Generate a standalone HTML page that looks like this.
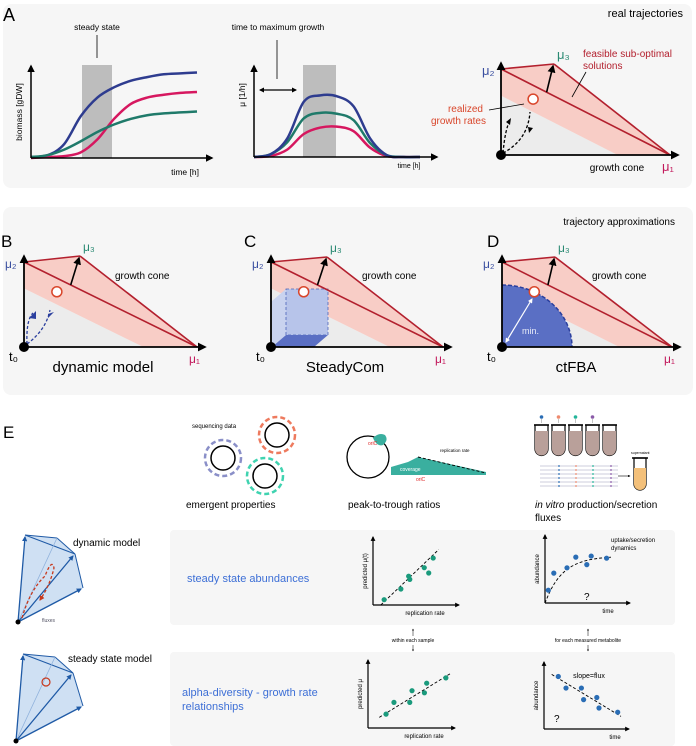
<!DOCTYPE html>
<html><head><meta charset="utf-8"><style>
html,body{margin:0;padding:0;background:#fff;}
svg{display:block;font-family:"Liberation Sans",sans-serif;}
</style></head><body>
<svg id="fig" width="696" height="746" viewBox="0 0 696 746" xmlns="http://www.w3.org/2000/svg">
<defs>
<marker id="ah" viewBox="0 0 10 10" refX="8" refY="5" markerWidth="5" markerHeight="5" orient="auto-start-reverse"><path d="M0,0L10,5L0,10z" fill="#000"/></marker>
<marker id="ahs" viewBox="0 0 10 10" refX="8" refY="5" markerWidth="4" markerHeight="4" orient="auto-start-reverse"><path d="M0,0L10,5L0,10z" fill="#000"/></marker>
<marker id="ahb" viewBox="0 0 10 10" refX="8" refY="5" markerWidth="4" markerHeight="4" orient="auto"><path d="M0,0L10,5L0,10z" fill="#1f5aa6"/></marker>
<marker id="ahr" viewBox="0 0 10 10" refX="8" refY="5" markerWidth="4" markerHeight="4" orient="auto"><path d="M0,0L10,5L0,10z" fill="#c8381c"/></marker>
<marker id="ahw" viewBox="0 0 10 10" refX="8" refY="5" markerWidth="4" markerHeight="4" orient="auto-start-reverse"><path d="M0,0L10,5L0,10z" fill="#fff"/></marker>
</defs>

<rect x="3" y="4" width="689" height="184" rx="8" fill="#f6f6f6"/>
<rect x="3" y="207" width="690" height="188" rx="8" fill="#f6f6f6"/>
<rect x="170" y="530" width="505" height="95" rx="4" fill="#f6f6f6"/>
<rect x="170" y="652" width="505" height="94" rx="4" fill="#f6f6f6"/>

<text x="3" y="21" font-size="18">A</text>
<text x="683" y="17" font-size="11" text-anchor="end">real trajectories</text>

<g>
<rect x="82" y="65" width="30" height="93" fill="#bdbdbd"/>
<text x="97" y="30" font-size="8.5" text-anchor="middle">steady state</text>
<line x1="97" y1="35" x2="97" y2="58" stroke="#000" stroke-width="0.8"/>
<g id="a1curves"></g>
<line x1="31" y1="158" x2="31" y2="66" stroke="#000" stroke-width="1.5" marker-end="url(#ah)"/>
<line x1="31" y1="158" x2="212" y2="158" stroke="#000" stroke-width="1.5" marker-end="url(#ah)"/>
<text transform="translate(22,112) rotate(-90)" font-size="8.5" text-anchor="middle">biomass [gDW]</text>
<text x="185" y="175" font-size="8.5" text-anchor="middle">time [h]</text>
</g>

<g>
<rect x="303" y="65" width="33" height="92" fill="#bdbdbd"/>
<text x="278" y="30" font-size="8.5" text-anchor="middle">time to maximum growth</text>
<line x1="277" y1="40" x2="277" y2="79" stroke="#000" stroke-width="0.8"/>
<line x1="260" y1="90" x2="296" y2="90" stroke="#000" stroke-width="1.3" marker-start="url(#ahs)" marker-end="url(#ahs)"/>
<g id="a2curves"></g>
<line x1="254" y1="157" x2="254" y2="66" stroke="#000" stroke-width="1.5" marker-end="url(#ah)"/>
<line x1="254" y1="157" x2="437" y2="157" stroke="#000" stroke-width="1.5" marker-end="url(#ah)"/>
<text transform="translate(245,95) rotate(-90)" font-size="8.5" text-anchor="middle">μ [1/h]</text>
<text x="409" y="168" font-size="7" text-anchor="middle">time [h]</text>
</g>

<g id="cones"></g>

<text x="583" y="57" font-size="10" fill="#b3202e">feasible sub-optimal</text>
<text x="583" y="69" font-size="10" fill="#b3202e">solutions</text>
<line x1="586" y1="72" x2="572" y2="97" stroke="#000" stroke-width="0.8"/>
<text x="483" y="112" font-size="10" fill="#d9462b" text-anchor="end">realized</text>
<text x="486" y="124" font-size="10" fill="#d9462b" text-anchor="end">growth rates</text>
<line x1="489" y1="110" x2="524" y2="104" stroke="#000" stroke-width="0.8"/>
<path d="M503,153 Q505,130 510,120 M503,153 Q528,140 530,112" fill="none" stroke="#000" stroke-width="1.3" stroke-dasharray="3,2"/>
<path d="M506,122 L511,118 L510,125z M528,127 L533,128 L529,133z" fill="#000"/>
<text x="617" y="171" font-size="10" text-anchor="middle">growth cone</text>

<text x="675" y="225" font-size="10" text-anchor="end">trajectory approximations</text>
<text x="1" y="247" font-size="17">B</text>
<text x="244" y="247" font-size="17">C</text>
<text x="487" y="247" font-size="17">D</text>
<text x="103" y="372" font-size="15" text-anchor="middle">dynamic model</text>
<text x="345" y="372" font-size="15" text-anchor="middle">SteadyCom</text>
<text x="576" y="372" font-size="15" text-anchor="middle">ctFBA</text>

<text x="3" y="438" font-size="17">E</text>
<text x="192" y="428" font-size="6">sequencing data</text>
<g>
<circle cx="223" cy="458" r="18" fill="none" stroke="#8a8fc8" stroke-width="2.5" stroke-dasharray="5,3"/>
<circle cx="223" cy="458" r="12" fill="none" stroke="#000" stroke-width="1.5"/>
<circle cx="277" cy="435" r="18" fill="none" stroke="#ee7a5e" stroke-width="2.5" stroke-dasharray="5,3"/>
<circle cx="277" cy="435" r="12" fill="none" stroke="#000" stroke-width="1.5"/>
<circle cx="265" cy="476" r="18" fill="none" stroke="#3fd3b0" stroke-width="2.5" stroke-dasharray="5,3"/>
<circle cx="265" cy="476" r="12" fill="none" stroke="#000" stroke-width="1.5"/>
</g>
<text x="186" y="508" font-size="10">emergent properties</text>
<g>
<circle cx="368" cy="457" r="21" fill="none" stroke="#000" stroke-width="1.3"/>
<path d="M373,438 q6,-6 12,-3 q4,5 -2,10 q-6,2 -10,-7z" fill="#3aaf9f"/>
<text x="368" y="445" font-size="5" fill="#d22">oriC</text>
<path d="M391,475 L391,467 L408,462 L418,457 L486,472 L486,475z" fill="#3aaf9f"/>
<line x1="418" y1="457" x2="486" y2="473" stroke="#000" stroke-width="0.9" stroke-dasharray="3,2"/>
<text x="440" y="452" font-size="4.5">replication rate</text>
<text x="400" y="471" font-size="5" fill="#fff">coverage</text>
<text x="416" y="481" font-size="5" fill="#d22">oriC</text>
</g>
<text x="348" y="508" font-size="10">peak-to-trough ratios</text>
<g id="tubes"></g>
<text x="535" y="508" font-size="10"><tspan font-style="italic">in vitro</tspan> production/secretion</text>
<text x="535" y="521" font-size="10">fluxes</text>

<g>
<polygon points="18,622 25,535 57,538 75,554 83,588" fill="#cfe0f3" stroke="none"/>
<line x1="25" y1="535" x2="75" y2="554" stroke="#1f5aa6" stroke-width="1"/>
<line x1="25" y1="535" x2="57" y2="538" stroke="#1f5aa6" stroke-width="1"/>
<line x1="57" y1="538" x2="75" y2="554" stroke="#1f5aa6" stroke-width="1"/>
<line x1="75" y1="554" x2="83" y2="588" stroke="#1f5aa6" stroke-width="1"/>
<line x1="18" y1="622" x2="57" y2="538" stroke="#8fb1dc" stroke-width="0.8"/>
<line x1="18" y1="622" x2="25" y2="537" stroke="#1f5aa6" stroke-width="1.3" marker-end="url(#ahb)"/>
<line x1="18" y1="622" x2="73" y2="556" stroke="#1f5aa6" stroke-width="1.3" marker-end="url(#ahb)"/>
<line x1="18" y1="622" x2="81" y2="589" stroke="#1f5aa6" stroke-width="1.3" marker-end="url(#ahb)"/>
<path d="M22,618 Q30,590 45,576 Q52,558 54,568 Q50,585 40,600" fill="none" stroke="#c8381c" stroke-width="1.3" stroke-dasharray="3,2" marker-end="url(#ahr)"/>
<circle cx="18" cy="622" r="2.5" fill="#000"/>
</g>
<text x="73" y="546" font-size="10">dynamic model</text>
<text x="42" y="622" font-size="5" fill="#556">fluxes</text>
<g>
<polygon points="16,741 23,654 55,657 73,673 83,706" fill="#cfe0f3"/>
<line x1="23" y1="654" x2="55" y2="657" stroke="#1f5aa6"/>
<line x1="23" y1="654" x2="73" y2="673" stroke="#1f5aa6"/>
<line x1="55" y1="657" x2="73" y2="673" stroke="#1f5aa6"/>
<line x1="73" y1="673" x2="83" y2="706" stroke="#1f5aa6"/>
<line x1="16" y1="741" x2="55" y2="657" stroke="#8fb1dc" stroke-width="0.8"/>
<line x1="16" y1="741" x2="23" y2="656" stroke="#1f5aa6" stroke-width="1.3" marker-end="url(#ahb)"/>
<line x1="16" y1="741" x2="71" y2="675" stroke="#1f5aa6" stroke-width="1.3" marker-end="url(#ahb)"/>
<line x1="16" y1="741" x2="81" y2="707" stroke="#1f5aa6" stroke-width="1.3" marker-end="url(#ahb)"/>
<circle cx="46" cy="682" r="4" fill="none" stroke="#c8381c" stroke-width="1.2"/>
<circle cx="16" cy="741" r="2.5" fill="#000"/>
</g>
<text x="68" y="662" font-size="10">steady state model</text>

<text x="187" y="582" font-size="11" fill="#3d6fd6">steady state abundances</text>
<text x="182" y="696" font-size="11" fill="#3d6fd6">alpha-diversity - growth rate</text>
<text x="182" y="710" font-size="11" fill="#3d6fd6">relationships</text>

<text x="413" y="642" font-size="5" text-anchor="middle">within each sample</text>
<line x1="413" y1="636" x2="413" y2="629" stroke="#000" stroke-width="0.5" marker-end="url(#ahs)"/>
<line x1="413" y1="645" x2="413" y2="651" stroke="#000" stroke-width="0.5" marker-end="url(#ahs)"/>
<text x="588" y="642" font-size="5" text-anchor="middle">for each measured metabolite</text>
<line x1="588" y1="636" x2="588" y2="629" stroke="#000" stroke-width="0.5" marker-end="url(#ahs)"/>
<line x1="588" y1="645" x2="588" y2="651" stroke="#000" stroke-width="0.5" marker-end="url(#ahs)"/>

<g id="scatters"></g>
<text x="611" y="542" font-size="6">uptake/secretion</text>
<text x="611" y="550" font-size="6">dynamics</text>
<text x="584" y="600" font-size="10">?</text>
<text x="589" y="678" font-size="7" text-anchor="middle">slope=flux</text>
<text x="554" y="722" font-size="10">?</text>
</svg>
<script>
var timeSteps=[0,1,2,3,4,5,6,7,8,9,10];
var biomassBlue=[0.01,0.03,0.15,0.45,0.65,0.76,0.83,0.87,0.9,0.91,0.92];
var biomassRed=[0,0.01,0.02,0.06,0.2,0.42,0.58,0.65,0.68,0.7,0.71];
var biomassGreen=[0.01,0.03,0.09,0.18,0.28,0.36,0.42,0.46,0.48,0.49,0.5];
var growthBlue=[0,0.03,0.2,0.6,0.67,0.66,0.55,0.2,0.02,0,0];
var growthGreen=[0,0.03,0.16,0.42,0.48,0.47,0.4,0.15,0.02,0,0];
var growthRed=[0,0.01,0.08,0.25,0.32,0.33,0.28,0.1,0.01,0,0];
var replRate1=[1.0,2.5,3.2,3.3,4.6,5.0,5.4];
var predMu1=[0.5,1.5,2.7,2.4,3.5,3.0,4.4];
var time1=[0.3,0.8,2.0,2.8,3.8,4.2,5.6];
var abund1=[1.2,2.8,3.3,4.3,3.6,4.4,4.2];
var replRate2=[1.6,2.3,3.7,3.9,5.0,5.2,6.9];
var predMu2=[1.3,2.4,2.4,3.5,3.3,4.2,4.7];
var time2=[1.3,2.0,3.4,3.6,4.8,5.0,6.7];
var abund2=[5.0,3.9,3.9,2.8,3.0,2.0,1.6];

var NS="http://www.w3.org/2000/svg";
function mk(tag,attrs,parent){var e=document.createElementNS(NS,tag);for(var k in attrs)e.setAttribute(k,attrs[k]);parent.appendChild(e);return e;}
function smooth(pts){var d="M"+pts[0][0]+","+pts[0][1];for(var i=0;i<pts.length-1;i++){var p0=pts[i-1]||pts[i],p1=pts[i],p2=pts[i+1],p3=pts[i+2]||p2;var c1x=p1[0]+(p2[0]-p0[0])/6,c1y=p1[1]+(p2[1]-p0[1])/6,c2x=p2[0]-(p3[0]-p1[0])/6,c2y=p2[1]-(p3[1]-p1[1])/6;d+=" C"+c1x+","+c1y+" "+c2x+","+c2y+" "+p2[0]+","+p2[1];}return d;}
function scale(d0,d1,r0,r1){return function(v){return r0+(v-d0)/(d1-d0)*(r1-r0);};}

var a1x=scale(0,10,31,197),a1y=scale(0,1,158,65);
var g1=document.getElementById('a1curves');
[[biomassBlue,'#2e3c8f','biomass-curve-blue'],[biomassRed,'#d6175f','biomass-curve-red'],[biomassGreen,'#1f7a6a','biomass-curve-green']].forEach(function(s){
 var p=mk('path',{d:smooth(timeSteps.map(function(t,i){return [a1x(t),a1y(s[0][i])];})),fill:'none',stroke:s[1],'stroke-width':2.5},g1);
 
 
});
var a2x=scale(0,10,254,420),a2y=scale(0,1,157,65);
var g2=document.getElementById('a2curves');
[[growthRed,'#d6175f','growth-curve-red'],[growthGreen,'#1f7a6a','growth-curve-green'],[growthBlue,'#2e3c8f','growth-curve-blue']].forEach(function(s){
 var p=mk('path',{d:smooth(timeSteps.map(function(t,i){return [a2x(t),a2y(s[0][i])];})),fill:'none',stroke:s[1],'stroke-width':2.5},g2);
 
 
});

var cg=document.getElementById('cones');
function cone(ox,oy,h,w,m3x,m3y,name,fs,extra){
 var g=mk('g',{},cg);
 
 
 var f=0.69;
 mk('polygon',{points:ox+","+oy+" "+ox+","+(oy-f*h)+" "+(ox+f*w)+","+oy,fill:'#ececec'},g);
 mk('polygon',{points:ox+","+(oy-h)+" "+m3x+","+m3y+" "+(ox+w)+","+oy+" "+(ox+f*w)+","+oy+" "+ox+","+(oy-f*h),fill:'#f8cdc6'},g);
 if(extra)extra(g);
 mk('line',{x1:ox,y1:oy-h,x2:m3x,y2:m3y,stroke:'#b3202e','stroke-width':1.6},g);
 mk('line',{x1:m3x,y1:m3y,x2:ox+w,y2:oy,stroke:'#b3202e','stroke-width':1.6},g);
 mk('line',{x1:ox,y1:oy-h,x2:ox+w,y2:oy,stroke:'#b3202e','stroke-width':1.6},g);
 var mx=ox+0.27*w,my=oy-h+0.27*h;
 mk('line',{x1:mx,y1:my,x2:m3x-1,y2:m3y+2,stroke:'#000','stroke-width':1.6,'marker-end':'url(#ah)'},g);
 mk('line',{x1:ox,y1:oy,x2:ox,y2:oy-h-6,stroke:'#000','stroke-width':1.8,'marker-end':'url(#ah)'},g);
 mk('line',{x1:ox,y1:oy,x2:ox+w+8,y2:oy,stroke:'#000','stroke-width':1.8,'marker-end':'url(#ah)'},g);
 mk('circle',{cx:ox+0.19*w,cy:oy-0.65*h,r:5,fill:'#fff',stroke:'#d9462b','stroke-width':1.5},g);
 mk('circle',{cx:ox,cy:oy,r:5,fill:'#000'},g);
 var t=mk('text',{x:ox-19,y:oy-h+6,'font-size':fs,fill:'#3a4fa0'},g);t.textContent='μ₂';
 t=mk('text',{x:m3x+3,y:m3y-5,'font-size':fs,fill:'#2a8a73'},g);t.textContent='μ₃';
 t=mk('text',{x:ox+w-8,y:oy+16,'font-size':fs,fill:'#c2185b'},g);t.textContent='μ₁';
 return g;
}
cone(501,155,86,169,554,64,'growth-cone-a',13);
function tLabel(x,y){var t=mk('text',{x:x,y:y,'font-size':13},cg);t.textContent='t₀';}
cone(24,347,85,173,80,256,'growth-cone-b',12,function(g){
 mk('path',{d:'M27,344 Q26,320 33,313 M27,344 Q46,330 50,310',fill:'none',stroke:'#2b3f9e','stroke-width':1.3,'stroke-dasharray':'3,2'},g);
 mk('path',{d:'M29,318 L36,311 L36,319z M48,314 L54,312 L48,318z',fill:'#2b3f9e'},g);
});
tLabel(9,361);
var t=mk('text',{x:115,y:279,'font-size':10},cg);t.textContent='growth cone';
cone(271,347,85,172,327,257,'growth-cone-c',12,function(g){
 mk('polygon',{points:'272,347 286,335 286,289 272,301',fill:'#c9d3ef'},g);
 mk('rect',{x:286,y:289,width:42,height:46,fill:'#b7c4ea',stroke:'#4b63b8','stroke-width':0.8,'stroke-dasharray':'3,2'},g);
 mk('polygon',{points:'272,347 314,347 328,335 286,335',fill:'#5a6fc4'},g);
});
tLabel(256,361);
t=mk('text',{x:362,y:279,'font-size':10},cg);t.textContent='growth cone';
cone(502,347,85,170,555,257,'growth-cone-d',12,function(g){
 mk('path',{d:'M502,347 L502,285 A70,62 0 0 1 572,347z',fill:'#5a6fc4'},g);
 mk('path',{d:'M502,285 A70,62 0 0 1 572,347',fill:'none',stroke:'#2b3f9e','stroke-width':1.5,'stroke-dasharray':'4,2'},g);
 mk('line',{x1:506,y1:342,x2:532,y2:299,stroke:'#fff','stroke-width':1.2,'marker-start':'url(#ahw)','marker-end':'url(#ahw)'},g);
 var tt=mk('text',{x:522,y:334,'font-size':9,fill:'#e8ecf8'},g);tt.textContent='min.';
});
tLabel(487,361);
t=mk('text',{x:592,y:279,'font-size':10},cg);t.textContent='growth cone';

var tg=document.getElementById('tubes');
var dotCols=['#2a6db5','#ee8a6e','#23b59a','#8a5aa8'];
for(var i=0;i<5;i++){
 var x=535+i*17;
 mk('path',{d:'M'+x+',425 L'+x+',449 a6.5,6.5 0 0 0 13,0 L'+(x+13)+',425z',fill:'#fff',stroke:'#000','stroke-width':1.2},tg);
 mk('path',{d:'M'+x+',431 L'+x+',449 a6.5,6.5 0 0 0 13,0 L'+(x+13)+',431z',fill:'#b9a09a'},tg);
 mk('line',{x1:x-1,y1:425,x2:x+14,y2:425,stroke:'#000','stroke-width':1.5},tg);
 if(i<4){mk('circle',{cx:x+6.5,cy:417,r:1.8,fill:dotCols[i]},tg);mk('line',{x1:x+6.5,y1:419,x2:x+6.5,y2:423,stroke:'#888','stroke-width':0.5},tg);}
}
for(var j=0;j<6;j++){var y=466+j*4;mk('line',{x1:540,y1:y,x2:618,y2:y,stroke:'#9a9ab8','stroke-width':0.5},tg);
 [559,576,593,611].forEach(function(cx,k){mk('circle',{cx:cx,cy:y,r:0.9,fill:dotCols[k]},tg);});}
mk('line',{x1:618,y1:476,x2:630,y2:476,stroke:'#000','stroke-width':0.6,'marker-end':'url(#ahs)'},tg);
mk('path',{d:'M634,458 L634,484 a6,6 0 0 0 12,0 L646,458z',fill:'#fff',stroke:'#000','stroke-width':1.2},tg);
mk('path',{d:'M634,468 L634,484 a6,6 0 0 0 12,0 L646,468z',fill:'#f3c07a'},tg);
mk('line',{x1:632,y1:458,x2:648,y2:458,stroke:'#000','stroke-width':1.5},tg);
var st=mk('text',{x:631,y:454,'font-size':3.5},tg);st.textContent='supernatant';

var sg=document.getElementById('scatters');
function scatter(ax,top,bottom,right,xs,ys,ylab,xlab,col,name,lineFrom){
 var g=mk('g',{},sg);
 
 
 var sx=scale(0,7,ax,right-8),sy=scale(0,6,bottom,top+4);
 mk('line',{x1:ax,y1:bottom,x2:ax,y2:top,stroke:'#000','stroke-width':1.2,'marker-end':'url(#ahs)'},g);
 mk('line',{x1:ax,y1:bottom,x2:right,y2:bottom,stroke:'#000','stroke-width':1.2,'marker-end':'url(#ahs)'},g);
 if(lineFrom)mk('path',{d:lineFrom(sx,sy),fill:'none',stroke:'#000','stroke-width':0.9,'stroke-dasharray':'3,2'},g);
 xs.forEach(function(v,i){var c=mk('circle',{cx:sx(v),cy:sy(ys[i]),r:2.6,fill:col},g);
  
  });
 var t=mk('text',{transform:'translate('+(ax-6)+','+((top+bottom)/2)+') rotate(-90)','font-size':6,'text-anchor':'middle'},g);t.textContent=ylab;
 t=mk('text',{x:xlab[1],y:bottom+10,'font-size':6,'text-anchor':'middle'},g);t.textContent=xlab[0];
}
scatter(373,537,605,459,replRate1,predMu1,'predicted μ(t)',['replication rate',425],'#1a9a7c','scatter-predicted-mu-t',function(sx,sy){return 'M'+sx(0.7)+','+sy(0)+' L'+sx(5.9)+','+sy(5.2);});
scatter(545,535,603,630,time1,abund1,'abundance',['time',608],'#2a6db5','scatter-uptake-dynamics',function(sx,sy){var p=[];for(var k=0;k<=12;k++){var x=k*0.5;p.push([sx(x),sy(4.4*(1-Math.exp(-x/1.6)))]);}return smooth(p);});
scatter(368,660,728,455,replRate2,predMu2,'predicted μ',['replication rate',424],'#1a9a7c','scatter-predicted-mu',function(sx,sy){return 'M'+sx(1.0)+','+sy(1.0)+' L'+sx(7.3)+','+sy(5.1);});
scatter(544,662,729,629,time2,abund2,'abundance',['time',615],'#2a6db5','scatter-slope-flux',function(sx,sy){return 'M'+sx(0.7)+','+sy(5.2)+' L'+sx(7.0)+','+sy(1.2);});
</script>
</body></html>
